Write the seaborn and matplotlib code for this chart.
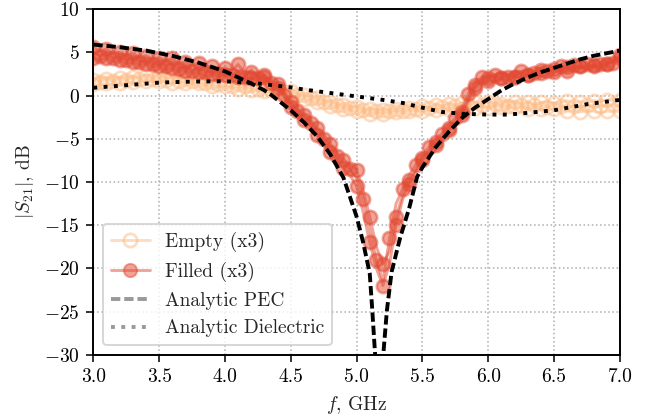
import numpy as np
import pandas as pd
import matplotlib
matplotlib.use("Agg")
import matplotlib.pyplot as plt
from matplotlib.lines import Line2D
import seaborn as sns

# ---------------- data ----------------
freq = [round(3.0 + 0.05 * i, 2) for i in range(81)]

empty_a = [1.8, 2.1, 1.9, 2.2, 2.0, 2.3, 2.1, 2.2, 2.4,
           2.2, 2.3, 2.1, 2.2, 2.0, 1.9, 2.0, 1.8, 1.7, 1.6,
           1.5, 1.6, 1.4, 1.3, 1.4, 1.2, 1.1, 1.0, 0.9, 0.8,
           0.6, 0.5, 0.3, 0.1, 0.0, -0.3, -0.5, -0.7, -0.9, -1.1,
           -1.2, -1.3, -1.5, -1.6, -1.5, -1.7, -1.6, -1.5, -1.6, -1.4,
           -1.3, -1.2, -1.4, -1.1, -1.2, -1.0, -1.1, -0.9, -1.0, -0.8,
           -0.9, -0.7, -0.8, -1.0, -0.6, -0.8, -0.9, -0.7, -1.0, -0.8,
           -0.7, -0.9, -0.8, -0.6, -0.9, -0.7, -0.8, -0.6, -0.7, -0.5,
           -0.6, -0.5]
empty_b = [1.7, 1.6, 1.8, 1.7, 1.9, 1.8, 2.0, 1.9, 2.0,
           1.9, 2.0, 1.8, 1.9, 1.7, 1.6, 1.7, 1.5, 1.4, 1.3,
           1.3, 1.2, 1.1, 1.0, 1.1, 0.9, 0.8, 0.8, 0.6, 0.5,
           0.4, 0.2, 0.1, -0.1, -0.3, -0.5, -0.7, -0.9, -1.1, -1.3,
           -1.4, -1.5, -1.7, -1.8, -1.8, -1.9, -1.8, -1.7, -1.8, -1.6,
           -1.5, -1.6, -1.4, -1.5, -1.3, -1.4, -1.2, -1.3, -1.1, -1.2,
           -1.1, -1.2, -1.0, -1.1, -1.2, -1.0, -1.1, -1.3, -1.1, -1.2,
           -1.3, -1.1, -1.2, -1.4, -1.2, -1.3, -1.1, -1.3, -1.2, -1.1,
           -1.0, -1.1]
empty_c = [1.3, 1.2, 1.4, 1.3, 1.5, 1.4, 1.6, 1.5, 1.7,
           1.6, 1.7, 1.6, 1.5, 1.6, 1.4, 1.3, 1.4, 1.2, 1.1,
           1.0, 1.1, 0.9, 0.8, 0.9, 0.7, 0.6, 0.5, 0.4, 0.3,
           0.2, 0.0, -0.2, -0.4, -0.6, -0.8, -1.0, -1.2, -1.4, -1.5,
           -1.7, -1.8, -1.9, -2.1, -2.0, -2.1, -2.0, -1.9, -2.0, -1.8,
           -1.7, -1.8, -1.6, -1.7, -1.5, -1.6, -1.4, -1.5, -1.3, -1.4,
           -1.3, -1.4, -1.2, -1.3, -1.5, -1.3, -1.4, -1.6, -1.5, -1.6,
           -1.7, -1.5, -1.6, -1.8, -1.7, -1.9, -1.7, -1.8, -2.0, -1.8,
           -1.9, -1.8]

filled_a = [5.6, 5.1, 5.4, 4.8, 5.0, 4.6, 4.9, 4.4, 4.6, 4.2,
            4.4, 4.0, 4.3, 3.7, 3.9, 3.5, 3.8, 3.3, 3.4, 3.0,
            3.2, 2.8, 3.6, 2.6, 2.7, 2.3, 2.2, 1.8, 1.3, 0.4,
            -0.8, -1.5, -2.2, -2.9, -3.8, -4.5, -5.6, -6.6, -7.4, -8.0,
            -8.6, -11.0, -14.0, -17.5, -19.5, -18.0, -14.0, -11.5, -9.8, -8.6,
            -7.2, -6.4, -5.4, -4.8, -3.8, -3.0, -1.9, -0.3, 1.2, 1.9,
            2.0, 2.3, 2.0, 2.5, 2.2, 2.7, 2.4, 2.8, 3.0, 2.7,
            3.1, 2.9, 3.3, 3.0, 3.4, 3.1, 3.5, 3.3, 3.7, 4.0,
            4.4]
filled_b = [5.0, 4.6, 4.8, 4.3, 4.5, 4.1, 4.3, 3.9, 4.0, 3.6,
            3.8, 3.4, 3.6, 3.1, 3.3, 2.9, 3.1, 2.7, 2.8, 2.5,
            2.7, 2.4, 2.6, 2.2, 3.0, 2.0, 1.9, 1.5, 1.1, 0.1,
            -1.0, -1.8, -2.5, -3.2, -4.2, -5.0, -6.0, -7.0, -7.9, -8.5,
            -9.5, -12.0, -15.5, -19.0, -21.5, -16.5, -12.5, -10.8, -9.2, -8.0,
            -6.9, -6.0, -5.1, -4.4, -3.5, -2.6, -1.5, 0.2, 1.6, 2.1,
            2.2, 2.4, 2.6, 2.2, 2.5, 2.8, 2.9, 2.6, 3.0, 2.9,
            3.2, 3.4, 3.1, 3.5, 3.2, 3.6, 3.4, 3.7, 3.9, 3.8,
            4.1]
filled_c = [4.4, 4.1, 4.4, 3.9, 4.1, 3.7, 3.9, 3.5, 3.6, 3.3,
            3.4, 3.0, 3.2, 2.8, 2.9, 2.6, 2.7, 2.3, 2.5, 2.2,
            2.4, 2.1, 2.2, 1.9, 2.0, 1.7, 2.4, 1.3, 0.9, -0.2,
            -1.3, -2.1, -2.8, -3.6, -4.6, -5.5, -6.5, -7.5, -8.4, -9.2,
            -10.5, -13.5, -17.0, -20.0, -22.0, -19.5, -15.0, -12.0, -10.2, -8.8,
            -7.5, -6.5, -5.7, -4.9, -4.0, -3.2, -2.3, -0.6, 0.9, 1.7,
            1.7, 1.6, 2.0, 1.8, 2.2, 2.0, 2.4, 2.2, 2.6, 2.8,
            2.7, 3.0, 2.8, 3.1, 3.4, 3.1, 3.4, 3.2, 3.6, 4.0,
            4.7]

pec_f = [3.0, 3.2, 3.4, 3.5, 3.6, 3.8, 4.0, 4.1, 4.2, 4.3, 4.35, 4.4, 4.5,
         4.6, 4.7, 4.8, 4.9, 5.0, 5.05, 5.1, 5.12, 5.14, 5.16, 5.175, 5.19,
         5.2, 5.23, 5.266, 5.33, 5.4, 5.46, 5.5, 5.6, 5.7, 5.8, 5.9, 6.0,
         6.1, 6.2, 6.3, 6.4, 6.5, 6.6, 6.7, 6.8, 6.9, 7.0]
pec_db = [5.9, 5.6, 5.2, 4.9, 4.6, 3.8, 2.8, 2.1, 1.4, 0.6, 0.1, -0.5,
          -1.7, -3.1, -4.7, -6.8, -9.5, -14.0, -17.0, -20.6, -25.0, -29.8,
          -36.0, -48.0, -35.0, -30.5, -24.9, -20.4, -16.5, -13.0, -9.4, -8.3,
          -6.0, -4.2, -2.6, -1.4, -0.4, 0.6, 1.4, 2.1, 2.7, 3.2, 3.7, 4.2,
          4.6, 4.9, 5.2]

diel_f = [3.0, 3.25, 3.5, 3.75, 4.0, 4.25, 4.5, 4.6, 4.8, 5.0, 5.2, 5.35,
          5.5, 5.65, 5.8, 6.0, 6.15, 6.3, 6.5, 6.75, 7.0]
diel_db = [0.9, 1.2, 1.5, 1.62, 1.66, 1.4, 0.95, 0.7, 0.3, -0.1, -0.5,
           -0.85, -1.4, -1.9, -2.1, -2.2, -2.2, -2.0, -1.7, -1.0, -0.5]

# ---------------- style ----------------
sns.set_theme(style="ticks")
plt.rcParams.update({
    "font.family": ["cmr10", "DejaVu Serif"],
    "mathtext.fontset": "cm",
    "axes.formatter.use_mathtext": True,
    "font.size": 10,
    "axes.labelsize": 10,
    "xtick.labelsize": 10,
    "ytick.labelsize": 10,
    "legend.fontsize": 10,
    "axes.edgecolor": "black",
    "axes.linewidth": 1.0,
    "xtick.color": "black",
    "ytick.color": "black",
    "xtick.major.size": 3.5,
    "ytick.major.size": 3.5,
    "xtick.major.width": 0.8,
    "ytick.major.width": 0.8,
    "xtick.major.pad": 3.5,
    "ytick.major.pad": 3.5,
    "axes.labelpad": 4.0,
})

c_empty = "#fdbb84"
c_filled = "#e34a33"

fig, ax = plt.subplots(figsize=(6.45 / 1.4, 4.16 / 1.4), dpi=140)
fig.subplots_adjust(left=0.1447, right=0.961, top=0.978, bottom=0.147)

groups = [((empty_a, empty_b, empty_c), c_empty, "none"),
          ((filled_a, filled_b, filled_c), c_filled, c_filled)]
for reps, col, face in groups:
    for k, r in enumerate(reps):
        df = pd.DataFrame({"f": freq, "s21": r})
        sns.lineplot(data=df, x="f", y="s21", ax=ax, color=col, alpha=0.5,
                     lw=1.5, marker="o", markersize=6.8, markerfacecolor=face,
                     markeredgecolor=col, markeredgewidth=1.4,
                     markevery=(k % 2, 2),
                     estimator=None, sort=False, legend=False)

sns.lineplot(x=pec_f, y=pec_db, ax=ax, color="black", lw=2,
             linestyle=(0, (2.4, 1.0)), estimator=None, sort=False)
sns.lineplot(x=diel_f, y=diel_db, ax=ax, color="black", lw=2,
             linestyle=(0, (1, 1.65)), estimator=None, sort=False)

ax.set_xlim(3.0, 7.0)
ax.set_ylim(-30, 10)
ax.set_xticks(np.arange(3.0, 7.01, 0.5))
ax.set_yticks(np.arange(-30, 10.1, 5))
ax.xaxis.set_major_formatter(matplotlib.ticker.FormatStrFormatter("%.1f"))
ax.grid(True, color="#b0b0b0", linestyle=":", lw=0.8)
ax.set_xlabel("$f$, GHz")
ax.set_ylabel("$|S_{21}|$, dB")
for s in ax.spines.values():
    s.set_visible(True)
    s.set_color("black")

handles = [
    Line2D([], [], color=c_empty, alpha=0.5, lw=1.5, marker="o", markersize=6.8,
           markerfacecolor="none", markeredgecolor=c_empty, markeredgewidth=1.4),
    Line2D([], [], color=c_filled, alpha=0.5, lw=1.5, marker="o", markersize=6.8,
           markerfacecolor=c_filled, markeredgecolor=c_filled),
    Line2D([], [], color="black", alpha=0.4, lw=2, linestyle=(0, (2.4, 1.0))),
    Line2D([], [], color="black", alpha=0.4, lw=2, linestyle=(0, (1, 1.65))),
]
labels = ["Empty (x3)", "Filled (x3)", "Analytic PEC", "Analytic Dielectric"]
ax.legend(handles, labels, loc="lower left", frameon=True, framealpha=0.8,
          edgecolor="#cccccc", fancybox=True)

fig.savefig("out.png", dpi=140)
